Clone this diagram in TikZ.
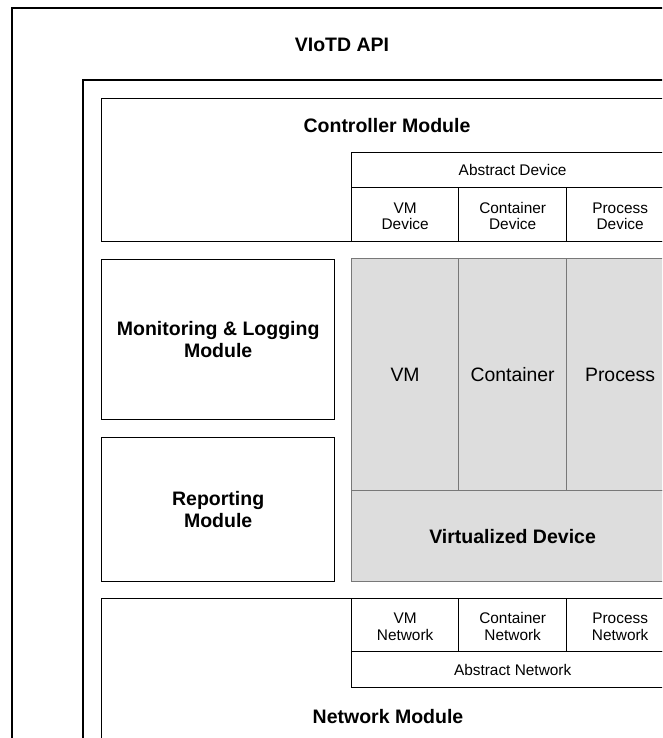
\documentclass[tikz,border=0pt]{standalone}
\usepackage{fontspec}
\setmainfont{Liberation Sans}
\definecolor{devfill}{RGB}{221,221,221}
\definecolor{devline}{RGB}{120,120,120}
% fixed-height line props keep two-line cell labels level across a row
\newcommand{\cellprop}{\rule[-1.4pt]{0pt}{16.4pt}}
\newcommand{\twolines}[2]{\cellprop#1\\\cellprop#2}
\tikzset{
  frame/.style={draw=black, line width=1.2pt, fill=none},
  box/.style={draw=black, line width=1.3pt, fill=white, inner sep=0pt, anchor=north west},
  cell/.style={draw=black, line width=1.3pt, fill=white, inner sep=0pt, anchor=north west,
    align=center, font=\fontsize{15.4}{16.6}\selectfont},
  devcell/.style={draw=devline, line width=1.2pt, fill=devfill, inner sep=0pt, anchor=north west,
    align=center, font=\fontsize{19.4}{22}\selectfont},
  title/.style={font=\bfseries\fontsize{19.5}{22}\selectfont, align=center, inner sep=0pt},
}
\begin{document}
\begin{tikzpicture}[x=1pt, y=-1pt]
  \useasboundingbox (0,0) rectangle (662,738);
  \clip (0,0) rectangle (662,738);

  % outer API frame and inner container frame (run past the page edge)
  \draw[frame] (12,8) rectangle (720,800);
  \node[title] (api) at (342,45) {VIoTD API};
  \draw[frame] (83,80) rectangle (700,800);

  % controller module with abstract device table
  \node[box, minimum width=572pt, minimum height=143pt] (ctrl) at (101,98) {};
  \node[title] (ctrllbl) at (387,126) {Controller Module};
  \node[cell, minimum width=322pt, minimum height=35pt] (absdev) at (351,152) {Abstract Device};
  \node[cell, minimum width=107pt, minimum height=54pt] (vmdev) at (351,187) {\twolines{VM}{Device}};
  \node[cell, minimum width=108pt, minimum height=54pt] (ctdev) at (458,187) {\twolines{Container}{Device}};
  \node[cell, minimum width=107pt, minimum height=54pt] (prdev) at (566,187) {\twolines{Process}{Device}};

  % monitoring and reporting modules
  \node[box, minimum width=233pt, minimum height=160pt, title] (mon) at (101,259) {Monitoring \& Logging\\Module};
  \node[box, minimum width=233pt, minimum height=144pt, title] (rep) at (101,437) {Reporting\\Module};

  % virtualized device block
  \node[devcell, minimum width=107pt, minimum height=232pt] (vm) at (351,258) {VM};
  \node[devcell, minimum width=108pt, minimum height=232pt] (ct) at (458,258) {Container};
  \node[devcell, minimum width=107pt, minimum height=232pt] (pr) at (566,258) {Process};
  \node[devcell, minimum width=322pt, minimum height=91pt,
        font=\bfseries\fontsize{19.5}{22}\selectfont] (virt) at (351,490) {Virtualized Device};

  % network module with abstract network table
  \node[box, minimum width=572pt, minimum height=200pt] (net) at (101,598) {};
  \node[cell, minimum width=107pt, minimum height=53pt] (vmnet) at (351,598) {\twolines{VM}{Network}};
  \node[cell, minimum width=108pt, minimum height=53pt] (ctnet) at (458,598) {\twolines{Container}{Network}};
  \node[cell, minimum width=107pt, minimum height=53pt] (prnet) at (566,598) {\twolines{Process}{Network}};
  \node[cell, minimum width=322pt, minimum height=36pt] (absnet) at (351,651) {Abstract Network};
  \node[title] (netlbl) at (388,717) {Network Module};
\end{tikzpicture}
\end{document}
